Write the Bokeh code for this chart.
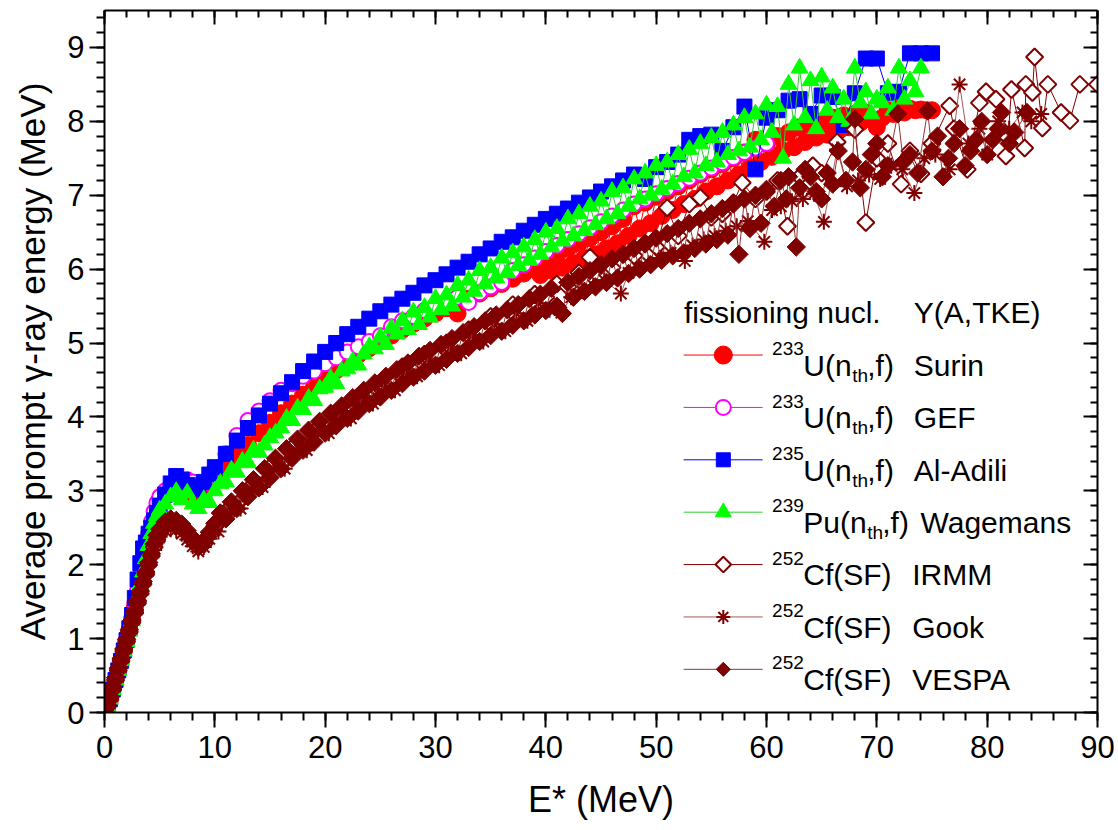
import math
from bokeh.plotting import figure
from bokeh.models import Range1d, LinearAxis, SingleIntervalTicker, Label
from bokeh.embed import file_html
from bokeh.resources import INLINE

# ---------------- data ----------------
E_LOW = [0, 0.25, 0.5, 0.75, 1, 1.25, 1.5, 1.75, 2, 2.25, 2.5, 2.75, 3, 3.25, 3.5, 3.75, 4, 4.25, 4.5, 4.75,
         5, 5.5, 6, 6.5, 7, 7.5, 8, 8.5, 9, 9.5, 10]
E_INT = [11, 12, 13, 14, 15, 16, 17, 18, 19, 20, 21, 22, 23, 24, 25, 26, 27, 28, 29, 30,
         31, 32, 33, 34, 35, 36, 37, 38, 39, 40, 41, 42, 43, 44, 45, 46, 47, 48, 49, 50,
         51, 52, 53, 54, 55, 56, 57, 58, 59, 60, 61, 62, 63, 64, 65, 66, 67, 68, 69, 70,
         71, 72, 73, 74, 75]
E_HALF = [10.5, 11, 11.5, 12, 12.5, 13, 13.5, 14, 14.5, 15, 15.5, 16, 16.5, 17, 17.5, 18, 18.5, 19, 19.5, 20,
          20.5, 21, 21.5, 22, 22.5, 23, 23.5, 24, 24.5, 25, 25.5, 26, 26.5, 27, 27.5, 28, 28.5, 29, 29.5, 30,
          30.5, 31, 31.5, 32, 32.5, 33, 33.5, 34, 34.5, 35, 35.5, 36, 36.5, 37, 37.5, 38, 38.5, 39, 39.5, 40,
          40.5, 41, 41.5, 42, 42.5, 43, 43.5, 44, 44.5, 45, 45.5, 46, 46.5, 47, 47.5, 48, 48.5, 49, 49.5, 50,
          50.5, 51, 51.5, 52, 52.5, 53, 53.5, 54, 54.5, 55, 55.5, 56, 56.5, 57, 57.5, 58, 58.5, 59, 59.5, 60,
          60.5, 61, 61.5, 62, 62.5, 63, 63.5, 64, 64.5, 65, 65.5, 66, 66.5, 67, 67.5, 68, 68.5, 69, 69.5, 70,
          70.5, 71, 71.5, 72, 72.5, 73, 73.5, 74, 74.5, 75]

# 233U(nth,f) Surin
surin_E = E_LOW + E_INT[:29] + E_HALF[58:]
surin_Eg = [0.02, 0.08, 0.18, 0.31, 0.44, 0.57, 0.70, 0.83, 0.97, 1.11, 1.26, 1.42, 1.60, 1.78, 1.96, 2.14, 2.32, 2.48, 2.62, 2.75,
            2.85, 2.92, 2.98, 3.02, 3.00, 2.98, 2.95, 2.98, 3.02, 3.10, 3.18,
            3.32, 3.48, 3.62, 3.78, 3.92, 4.05, 4.18, 4.30, 4.42, 4.53,
            4.63, 4.74, 4.84, 4.93, 5.02, 5.10, 5.18, 5.26, 5.33, 5.40,
            5.47, 5.40, 5.60, 5.67, 5.74, 5.80, 5.87, 5.94, 6.00,
            5.92, 6.12,
            5.98, 6.20, 6.02, 6.28, 6.08, 6.35, 6.15, 6.42, 6.20, 6.50, 6.28, 6.58, 6.35, 6.68, 6.45, 6.85, 6.55, 6.90, 6.62, 6.98,
            6.72, 7.05, 6.80, 7.12, 6.88, 7.20, 6.95, 7.28, 7.05, 7.35, 7.12, 7.42, 7.20, 7.50, 7.28, 7.58, 7.38, 7.75, 7.45, 7.70,
            7.52, 7.80, 7.60, 7.85, 7.65, 7.92, 7.72, 7.95, 7.78, 8.00, 7.82, 8.05, 7.88, 8.08, 7.92, 8.10, 7.98, 8.12, 8.02, 7.92,
            8.05, 8.15, 8.10, 8.17, 8.12, 8.17, 8.15, 8.16, 8.15, 8.15]

# 233U(nth,f) GEF
gef_E = E_LOW + E_INT[:50]
gef_Eg = [0.02, 0.08, 0.18, 0.31, 0.44, 0.57, 0.70, 0.84, 0.98, 1.13, 1.30, 1.48, 1.66, 1.85, 2.04, 2.23, 2.42, 2.58, 2.72, 2.84,
          2.92, 3.00, 3.06, 3.10, 3.12, 3.15, 3.12, 3.08, 3.10, 3.18, 3.30,
          3.50, 3.75, 3.95, 4.08, 4.22, 4.36, 4.45, 4.55, 4.62, 4.72,
          4.80, 4.88, 4.95, 5.02, 5.10, 5.22, 5.30, 5.36, 5.44, 5.50,
          5.56, 5.62, 5.55, 5.68, 5.76, 5.82, 5.98, 6.06, 6.15, 6.24,
          6.32, 6.40, 6.48, 6.56, 6.64, 6.72, 6.80, 6.88, 6.95, 7.02,
          7.09, 7.16, 7.23, 7.30, 7.37, 7.44, 7.51, 7.58, 7.64, 7.70]

# 235U(nth,f) Al-Adili
adili_E = E_LOW + E_INT
adili_Eg = [0.02, 0.08, 0.18, 0.31, 0.44, 0.57, 0.70, 0.84, 0.98, 1.14, 1.32, 1.55, 1.80, 2.02, 2.22, 2.30, 2.42, 2.50, 2.60, 2.70,
            2.80, 2.95, 3.10, 3.20, 3.15, 3.08, 3.02, 3.05, 3.12, 3.22, 3.32,
            3.50, 3.68, 3.85, 4.02, 4.18, 4.32, 4.47, 4.62, 4.75, 4.88,
            5.00, 5.12, 5.22, 5.33, 5.43, 5.52, 5.60, 5.68, 5.78, 5.85,
            5.93, 6.02, 6.10, 6.20, 6.28, 6.37, 6.43, 6.52, 6.60, 6.68,
            6.75, 6.82, 6.90, 6.97, 7.05, 7.12, 7.20, 7.28, 7.22, 7.38,
            7.45, 7.55, 7.75, 7.80, 7.82, 7.60, 7.92, 8.20, 7.35, 8.05,
            8.15, 8.28, 8.30, 8.10, 8.35, 8.33, 7.95, 8.38, 8.85, 8.85,
            8.38, 8.40, 8.92, 8.92, 8.92]

# 239Pu(nth,f) Wagemans
wag_E = E_LOW + E_HALF[:128]
wag_Eg = [0.02, 0.08, 0.18, 0.31, 0.44, 0.57, 0.70, 0.83, 0.96, 1.10, 1.24, 1.40, 1.56, 1.73, 1.90, 2.08, 2.26, 2.42, 2.56, 2.66,
          2.74, 2.82, 2.92, 2.99, 2.88, 2.97, 2.82, 2.76, 2.88, 2.84, 3.00,
          3.10, 3.12, 3.28, 3.25, 3.40, 3.38, 3.55, 3.52, 3.62, 3.72, 3.78, 3.85, 3.98, 3.95, 4.12, 4.10, 4.25, 4.22, 4.38, 4.40,
          4.52, 4.45, 4.62, 4.65, 4.75, 4.70, 4.85, 4.95, 4.92, 5.08, 4.98, 5.20, 5.12, 5.30, 5.18, 5.42, 5.25, 5.48, 5.35, 5.60,
          5.45, 5.65, 5.50, 5.78, 5.62, 5.85, 5.70, 5.98, 5.80, 6.02, 5.88, 6.15, 5.95, 6.22, 6.05, 6.30, 6.12, 6.40, 6.20, 6.50,
          6.30, 6.55, 6.38, 6.68, 6.45, 6.75, 6.52, 6.85, 6.60, 6.92, 6.68, 7.05, 6.75, 7.10, 6.85, 7.22, 6.95, 7.30, 7.00, 7.40,
          7.08, 7.45, 7.15, 7.55, 7.25, 7.62, 7.30, 7.70, 7.40, 7.78, 7.45, 7.85, 7.55, 7.95, 7.60, 8.05, 7.65, 8.10, 7.75, 8.22,
          7.85, 8.20, 7.50, 8.50, 7.95, 8.72, 8.05, 8.55, 7.90, 8.60, 8.15, 8.45, 8.05, 8.30, 8.00, 8.72, 8.25, 8.40, 8.10, 8.30,
          8.25, 8.45, 8.15, 8.72, 8.30, 8.55, 8.40, 8.72]

# 252Cf(SF) IRMM
irmm_E = E_LOW + E_INT[:40] + [51, 52, 53, 54, 55, 56, 57, 57.8, 59, 60,
                               61, 61.9, 63, 64.2, 65, 66.4, 68, 69, 70, 71,
                               72.2, 73, 74, 75, 76.6, 77, 78.2, 79.3, 79.9, 80.8,
                               81.7, 81.9, 82.2, 83.4, 83.5, 84.1, 84.3, 85, 85.5, 86.7,
                               87.5, 88.4, 90]
irmm_Eg = [0.02, 0.08, 0.18, 0.31, 0.44, 0.57, 0.70, 0.83, 0.96, 1.09, 1.22, 1.35, 1.48, 1.61, 1.74, 1.87, 2.00, 2.12, 2.24, 2.34,
           2.42, 2.52, 2.56, 2.55, 2.50, 2.42, 2.32, 2.24, 2.28, 2.40, 2.52,
           2.72, 2.82, 3.02, 3.08, 3.32, 3.36, 3.58, 3.62, 3.80, 3.85,
           4.05, 4.05, 4.28, 4.25, 4.45, 4.45, 4.68, 4.62, 4.85, 4.82,
           5.00, 5.02, 5.18, 5.18, 5.36, 5.33, 5.52, 5.48, 5.66, 5.62,
           5.80, 5.76, 5.95, 6.16, 6.05, 6.02, 6.20, 6.18, 6.35, 6.30,
           6.83, 6.45, 6.88, 6.97, 6.70, 6.75, 6.90, 7.17, 6.95, 7.05,
           7.20, 6.58, 7.25, 7.40, 7.30, 7.72, 7.89, 6.63, 7.50, 7.70,
           7.15, 7.60, 7.29, 7.70, 8.21, 7.90, 7.35, 8.25, 8.40, 8.30,
           7.53, 7.78, 8.43, 7.64, 8.50, 8.39, 8.87, 7.91, 8.50, 8.12,
           8.01, 8.50, 8.50]

# 252Cf(SF) Gook
gook_E = E_LOW + [10.33, 11.33, 12.33, 13.33, 14.33, 15.33, 16.33, 17.33, 18.33, 19.33,
                  20.33, 21.33, 22.33, 23.33, 24.33, 25.33, 26.33, 27.33, 28.33, 29.33,
                  30.33, 31.33, 32.33, 33.33, 34.33, 35.33, 36.33, 37.33, 38.33, 39.33,
                  40.33,
                  41.4, 42.3, 43.3, 44.3, 45.3, 46.8, 47.5, 48.3, 49.3, 50.3,
                  51.3, 52.6, 53.3, 54.3, 55.3, 56.3, 57.3, 58.3, 59.8, 60.5,
                  61.3, 62.3, 63.3, 64.3, 65.2, 66.4, 67.3, 68.3, 69.3, 70.3,
                  71.3, 72.3, 73.4, 74.3, 75.3, 76.6, 77.5, 78.3, 79.3, 80.0,
                  81.0, 82.0, 83.2, 84.0, 84.9]
gook_Eg = [0.02, 0.07, 0.16, 0.29, 0.42, 0.55, 0.68, 0.81, 0.94, 1.07, 1.20, 1.33, 1.46, 1.59, 1.72, 1.85, 1.98, 2.10, 2.20, 2.30,
           2.38, 2.46, 2.48, 2.47, 2.42, 2.34, 2.25, 2.18, 2.24, 2.35, 2.47,
           2.45, 2.72, 2.76, 3.02, 3.05, 3.30, 3.30, 3.55, 3.55, 3.80,
           3.78, 4.02, 3.98, 4.22, 4.18, 4.42, 4.36, 4.60, 4.55, 4.78,
           4.70, 4.94, 4.86, 5.10, 5.02, 5.25, 5.16, 5.40, 5.30, 5.54,
           5.45,
           5.41, 5.62, 5.70, 5.78, 5.85, 5.67, 5.95, 6.02, 6.08, 6.15,
           6.22, 6.11, 6.32, 6.40, 6.45, 6.52, 6.58, 6.65, 6.37, 6.80,
           6.85, 6.92, 6.95, 7.02, 6.64, 7.62, 7.12, 7.20, 7.28, 7.22,
           7.40, 7.35, 7.03, 7.50, 7.55, 7.35, 8.50, 7.70, 7.90, 7.55,
           8.00, 7.90, 8.12, 8.00, 8.10]

# 252Cf(SF) VESPA
vespa_E = E_LOW + E_HALF[:100] + [60.7, 61.3, 61.8, 62.0, 62.7, 63.0, 63.5, 64.0, 64.5, 65.0,
                                  65.5, 66.0, 66.5, 67.2, 67.8, 68.0, 68.5, 69.0, 69.5, 70.0,
                                  70.5, 71.0, 71.9, 72.4, 73.0, 73.7, 74.6, 75.0, 75.5, 76.0,
                                  76.5, 77.0, 77.5, 78.0, 78.5, 79.0, 79.5, 80.0, 80.5, 81.0,
                                  81.3, 82.0, 82.5, 83.6]
vespa_Eg = [0.03, 0.10, 0.21, 0.34, 0.47, 0.60, 0.73, 0.86, 0.99, 1.12, 1.25, 1.38, 1.51, 1.64, 1.77, 1.90, 2.03, 2.15, 2.28, 2.40,
            2.48, 2.58, 2.62, 2.60, 2.55, 2.46, 2.36, 2.28, 2.32, 2.44, 2.56,
            2.70, 2.62, 2.85, 2.76, 3.00, 2.92, 3.15, 3.04, 3.30, 3.18,
            3.44, 3.30, 3.57, 3.44, 3.70, 3.55, 3.82, 3.66, 3.94, 3.78,
            4.05, 3.88, 4.15, 3.98, 4.26, 4.08, 4.36, 4.18, 4.46, 4.27,
            4.55, 4.36, 4.64, 4.45, 4.73, 4.54, 4.82, 4.62, 4.90, 4.70,
            4.98, 4.78, 5.06, 4.86, 5.14, 4.94, 5.22, 5.02, 5.30, 5.10,
            5.38, 5.16, 5.45, 5.24, 5.52, 5.30, 5.60, 5.38, 5.66, 5.44,
            5.74, 5.50, 5.40, 5.82, 5.62, 5.90, 5.70, 5.98, 5.76, 6.06,
            5.82, 6.14, 5.88, 6.20, 5.94, 6.28, 6.00, 6.34, 6.06, 6.42,
            6.12, 6.48, 6.18, 6.55, 6.22, 6.62, 6.28, 6.68, 6.34, 6.75,
            6.40, 6.82, 6.46, 6.88, 6.20, 6.95, 6.55, 7.00, 6.62, 7.08,
            6.85, 7.20, 6.95, 7.25, 6.30, 7.10, 7.35, 7.25, 7.05, 6.95,
            7.30, 7.15, 7.60, 7.20, 7.45, 8.03, 7.10, 7.35, 7.55, 7.70,
            7.25, 7.40, 8.10, 7.45, 7.55, 7.30, 8.14, 7.60, 7.80, 7.25,
            7.50, 7.70, 7.90, 7.40, 7.60, 7.75, 8.00, 7.55, 7.75, 7.90,
            8.12, 7.70, 7.85, 8.12]

X_TICK_INTERVAL = 10
Y_TICK_INTERVAL = 1

for _x, _y in [(surin_E, surin_Eg), (gef_E, gef_Eg), (adili_E, adili_Eg), (wag_E, wag_Eg),
               (irmm_E, irmm_Eg), (gook_E, gook_Eg), (vespa_E, vespa_Eg)]:
    assert len(_x) == len(_y), (len(_x), len(_y))

# ---------------- figure ----------------
FONT = "Liberation Sans"
MAROON = "#800000"

p = figure(width=1118, height=830, output_backend="svg", toolbar_location=None,
           x_range=Range1d(0, 90), y_range=Range1d(0, 9.5),
           min_border_left=104, min_border_right=21, min_border_top=10, min_border_bottom=118)
p.xgrid.visible = False
p.ygrid.visible = False
p.outline_line_color = None
p.background_fill_color = "white"
p.border_fill_color = "white"


def style_axis(ax, labels=True):
    ax.axis_line_width = 2
    ax.axis_line_color = "black"
    ax.major_tick_line_width = 2
    ax.minor_tick_line_width = 2
    ax.major_tick_line_color = "black"
    ax.minor_tick_line_color = "black"
    if labels:
        ax.major_tick_out = 15
        ax.major_tick_in = 0
        ax.minor_tick_out = 8
        ax.minor_tick_in = 0
        ax.major_label_text_font = FONT
        ax.major_label_text_font_size = "31px"
        ax.major_label_text_color = "black"
        ax.axis_label_text_font = FONT
        ax.axis_label_text_font_size = "36px"
        ax.axis_label_text_font_style = "normal"
        ax.axis_label_text_color = "black"
    else:
        ax.major_tick_out = 0
        ax.major_tick_in = 14
        ax.minor_tick_out = 0
        ax.minor_tick_in = 7
        ax.major_label_text_font_size = "1px"
        ax.major_label_text_color = None
        ax.major_label_standoff = 0


p.xaxis.ticker = SingleIntervalTicker(interval=X_TICK_INTERVAL, num_minor_ticks=5)
p.yaxis.ticker = SingleIntervalTicker(interval=Y_TICK_INTERVAL, num_minor_ticks=5)
style_axis(p.xaxis[0])
style_axis(p.yaxis[0])
p.xaxis.axis_label = "E* (MeV)"
p.yaxis.axis_label = "Average prompt \u03b3-ray energy (MeV)"
p.yaxis.axis_label_text_font_size = "35px"
p.xaxis.major_label_standoff = 8
p.yaxis.major_label_standoff = 5
p.xaxis.axis_label_standoff = 18
p.yaxis.axis_label_standoff = 12

top_ax = LinearAxis(ticker=SingleIntervalTicker(interval=X_TICK_INTERVAL, num_minor_ticks=5))
right_ax = LinearAxis(ticker=SingleIntervalTicker(interval=Y_TICK_INTERVAL, num_minor_ticks=5))
style_axis(top_ax, labels=False)
style_axis(right_ax, labels=False)
p.add_layout(top_ax, "above")
p.add_layout(right_ax, "right")

# ---------------- series ----------------
series = [
    dict(x=surin_E, y=surin_Eg, line="#FF0000", marker="circle", size=17, fill="#FF0000", edge="#FF0000", lw=1, angle=0),
    dict(x=gef_E, y=gef_Eg, line="#FF00FF", marker="circle", size=15, fill="white", edge="#FF00FF", lw=2, angle=0),
    dict(x=adili_E, y=adili_Eg, line="#0000FF", marker="square", size=15, fill="#0000FF", edge="#0000FF", lw=1, angle=0),
    dict(x=wag_E, y=wag_Eg, line="#33CC33", marker="triangle", size=17, fill="#00FF00", edge="#00FF00", lw=1, angle=0),
    dict(x=irmm_E, y=irmm_Eg, line=MAROON, marker="square", size=12, fill="white", edge=MAROON, lw=2, angle=math.pi / 4),
    dict(x=gook_E, y=gook_Eg, line="#A65959", marker="asterisk", size=16, fill=MAROON, edge=MAROON, lw=2, angle=0),
    dict(x=vespa_E, y=vespa_Eg, line="#993333", marker="square", size=13, fill=MAROON, edge=MAROON, lw=1, angle=math.pi / 4),
]

for s in series:
    p.line(s["x"], s["y"], line_color=s["line"], line_width=1)
    p.scatter(s["x"], s["y"], marker=s["marker"], size=s["size"], fill_color=s["fill"],
              line_color=s["edge"], line_width=s["lw"], angle=s["angle"])

# ---------------- legend (hand-built: super/subscripts) ----------------
FX0, FY0, SX, SY = 103.7, 712.3, 993.3 / 90.0, 702.3 / 9.5
LEG_DY = -11


def dx(px):
    return (px - FX0) / SX


def dy(py):
    return (FY0 - (py + LEG_DY)) / SY


def label(px, py, text, size):
    p.add_layout(Label(x=dx(px), y=dy(py), text=text, text_font=FONT,
                       text_font_size=size, text_color="black",
                       text_align="left", text_baseline="alphabetic"))


label(683.3, 323.5, "fissioning nucl.", "30px")
label(913.3, 323.5, "Y(A,TKE)", "30px")

legend_rows = [
    ("233", "U(n", "th", ",f)", "Surin"),
    ("233", "U(n", "th", ",f)", "GEF"),
    ("235", "U(n", "th", ",f)", "Al-Adili"),
    ("239", "Pu(n", "th", ",f)", "Wagemans"),
    ("252", "Cf(SF)", None, None, "IRMM"),
    ("252", "Cf(SF)", None, None, "Gook"),
    ("252", "Cf(SF)", None, None, "VESPA"),
]
leg_marker_size = [18, 15, 14, 16, 11, 14, 10]
for i, (sup, main1, sub, main2, name) in enumerate(legend_rows):
    py = 365.7 + i * 52.4
    s = series[i]
    p.line([dx(683), dx(762)], [dy(py), dy(py)], line_color=s["line"], line_width=1)
    p.scatter([dx(722.7)], [dy(py)], marker=s["marker"], size=leg_marker_size[i],
              fill_color=s["fill"], line_color=s["edge"], line_width=s["lw"], angle=s["angle"])
    label(771.5, py - 6.4, sup, "19px")
    label(802.7, py + 10.3, main1, "30px")
    if sub is not None:
        subx = 851.7 if main1 == "U(n" else 866.7
        label(subx, py + 20.5, sub, "19px")
        label(subx + 15, py + 10.3, main2, "30px")
    namex = 920 if name == "Wagemans" else (913.3 if sub is not None else 911.7)
    label(namex, py + 10.3, name, "30px")

open("out.html", "w").write(file_html(p, INLINE))
